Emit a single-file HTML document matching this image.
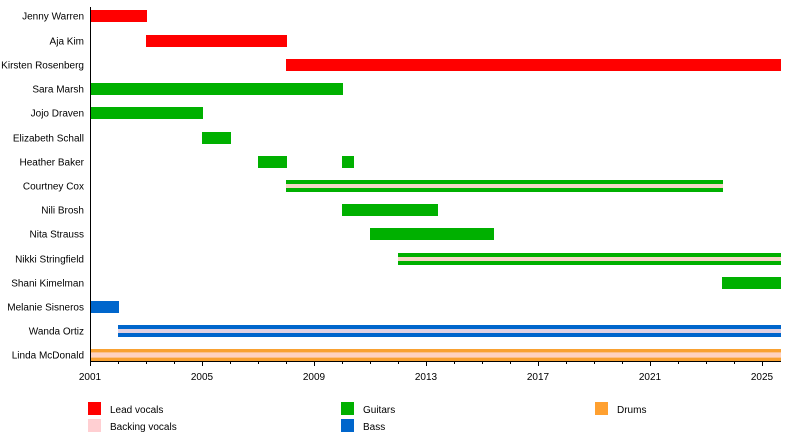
<!DOCTYPE html>
<html><head><meta charset="utf-8"><style>
html,body{margin:0;padding:0;background:#fff;}
svg{display:block;}
text{font-family:"Liberation Sans",Arial,sans-serif;font-size:10px;fill:#000;}
</style></head><body>
<svg width="800" height="440" viewBox="0 0 800 440" xmlns="http://www.w3.org/2000/svg">
<rect width="800" height="440" fill="#fff"/>
<!-- labels -->
<g text-anchor="end">
<text x="84" y="19.5">Jenny Warren</text>
<text x="84" y="44.5">Aja Kim</text>
<text x="84" y="68.5">Kirsten Rosenberg</text>
<text x="84" y="92.5">Sara Marsh</text>
<text x="84" y="116.5">Jojo Draven</text>
<text x="84" y="141.5">Elizabeth Schall</text>
<text x="84" y="165.5">Heather Baker</text>
<text x="84" y="189.5">Courtney Cox</text>
<text x="84" y="213.5">Nili Brosh</text>
<text x="84" y="237.5">Nita Strauss</text>
<text x="84" y="262.5">Nikki Stringfield</text>
<text x="84" y="286.5">Shani Kimelman</text>
<text x="84" y="310.5">Melanie Sisneros</text>
<text x="84" y="334.5">Wanda Ortiz</text>
<text x="84" y="358.5">Linda McDonald</text>
</g>
<!-- bars -->
<rect x="90" y="10" width="57" height="12" fill="#ff0000"/>
<rect x="146" y="35" width="141" height="12" fill="#ff0000"/>
<rect x="286" y="59" width="495" height="12" fill="#ff0000"/>
<rect x="90" y="83" width="253" height="12" fill="#00b000"/>
<rect x="90" y="107" width="113" height="12" fill="#00b000"/>
<rect x="202" y="132" width="29" height="12" fill="#00b000"/>
<rect x="258" y="156" width="29" height="12" fill="#00b000"/>
<rect x="342" y="156" width="12" height="12" fill="#00b000"/>
<rect x="286" y="180" width="437" height="12" fill="#00b000"/>
<rect x="286" y="184" width="437" height="4" fill="#f6d6c6"/>
<rect x="342" y="204" width="96" height="12" fill="#00b000"/>
<rect x="370" y="228" width="124" height="12" fill="#00b000"/>
<rect x="398" y="253" width="383" height="12" fill="#00b000"/>
<rect x="398" y="257" width="383" height="4" fill="#f6d6c6"/>
<rect x="722" y="277" width="59" height="12" fill="#00b000"/>
<rect x="90" y="301" width="29" height="12" fill="#0066cc"/>
<rect x="118" y="325" width="663" height="12" fill="#0066cc"/>
<rect x="118" y="329" width="663" height="4" fill="#e2d2e2"/>
<rect x="90" y="349" width="691" height="12" fill="#f9a131"/>
<rect x="90" y="352" width="691" height="6" fill="#fcc08a"/>
<rect x="90" y="353" width="691" height="4" fill="#ffd2c0"/>
<!-- axes -->
<line x1="90.5" y1="7" x2="90.5" y2="361" stroke="#000" stroke-width="1"/>
<line x1="90" y1="361.5" x2="781" y2="361.5" stroke="#000" stroke-width="1"/>
<g stroke="#000" stroke-width="1">
<line x1="90.5" y1="361" x2="90.5" y2="366"/>
<line x1="118.5" y1="361" x2="118.5" y2="364"/>
<line x1="146.5" y1="361" x2="146.5" y2="364"/>
<line x1="174.5" y1="361" x2="174.5" y2="364"/>
<line x1="202.5" y1="361" x2="202.5" y2="366"/>
<line x1="230.5" y1="361" x2="230.5" y2="364"/>
<line x1="258.5" y1="361" x2="258.5" y2="364"/>
<line x1="286.5" y1="361" x2="286.5" y2="364"/>
<line x1="314.5" y1="361" x2="314.5" y2="366"/>
<line x1="342.5" y1="361" x2="342.5" y2="364"/>
<line x1="370.5" y1="361" x2="370.5" y2="364"/>
<line x1="398.5" y1="361" x2="398.5" y2="364"/>
<line x1="426.5" y1="361" x2="426.5" y2="366"/>
<line x1="454.5" y1="361" x2="454.5" y2="364"/>
<line x1="482.5" y1="361" x2="482.5" y2="364"/>
<line x1="510.5" y1="361" x2="510.5" y2="364"/>
<line x1="538.5" y1="361" x2="538.5" y2="366"/>
<line x1="566.5" y1="361" x2="566.5" y2="364"/>
<line x1="594.5" y1="361" x2="594.5" y2="364"/>
<line x1="622.5" y1="361" x2="622.5" y2="364"/>
<line x1="650.5" y1="361" x2="650.5" y2="366"/>
<line x1="678.5" y1="361" x2="678.5" y2="364"/>
<line x1="706.5" y1="361" x2="706.5" y2="364"/>
<line x1="734.5" y1="361" x2="734.5" y2="364"/>
<line x1="762.5" y1="361" x2="762.5" y2="366"/>
</g>
<g text-anchor="middle">
<text x="90" y="380">2001</text>
<text x="202" y="380">2005</text>
<text x="314" y="380">2009</text>
<text x="426" y="380">2013</text>
<text x="538" y="380">2017</text>
<text x="650" y="380">2021</text>
<text x="762" y="380">2025</text>
</g>
<!-- legend -->
<rect x="88" y="402" width="13" height="13" fill="#ff0000"/>
<text x="110" y="413">Lead vocals</text>
<rect x="88" y="419" width="13" height="13" fill="#ffcfd2"/>
<text x="110" y="430">Backing vocals</text>
<rect x="341" y="402" width="13" height="13" fill="#00b000"/>
<text x="363" y="413">Guitars</text>
<rect x="341" y="419" width="13" height="13" fill="#0066cc"/>
<text x="363" y="430">Bass</text>
<rect x="595" y="402" width="13" height="13" fill="#ffa030"/>
<text x="617" y="413">Drums</text>
</svg>
</body></html>
